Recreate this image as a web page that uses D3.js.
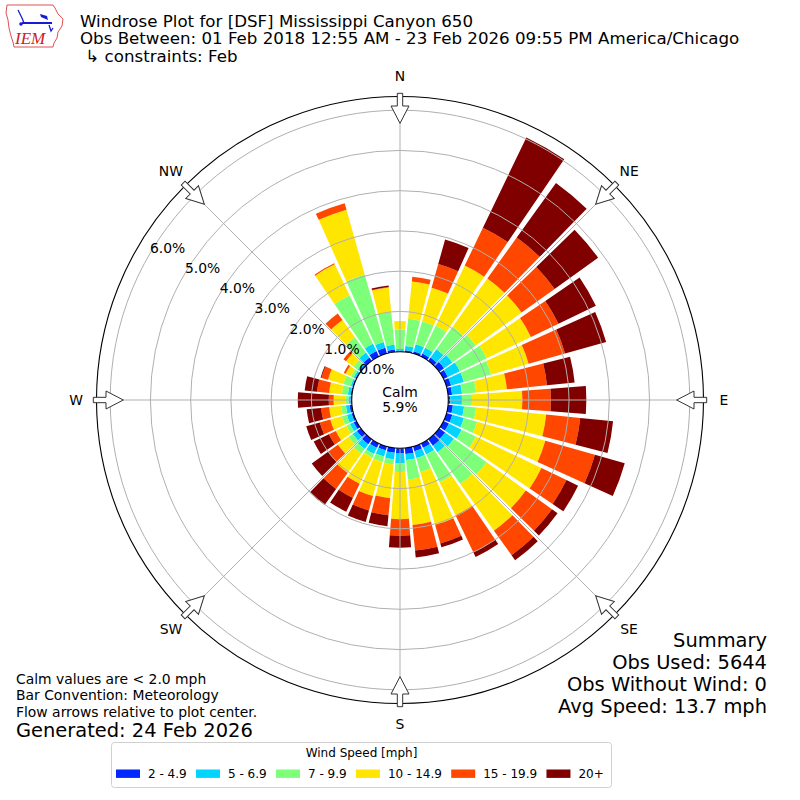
<!DOCTYPE html>
<html>
<head>
<meta charset="utf-8">
<script src="https://cdn.jsdelivr.net/npm/d3@7"></script>
<style>
  body { margin: 0; background: #fff; }
  text { font-family: "DejaVu Sans", sans-serif; fill: #000; }
</style>
</head>
<body>
<div id="chart"></div>
<script>
var svgWidth = 800;
var svgHeight = 800;
var cx = 400, cy = 400;

// wind directions (bar centres, degrees from north)
var directions = [0, 10, 20, 30, 40, 50, 60, 70, 80, 90, 100, 110, 120, 130, 140, 150, 160, 170,
    180, 190, 200, 210, 220, 230, 240, 250, 260, 270, 280, 290, 300, 310, 320, 330, 340, 350];

var speedBins = ["2 - 4.9", "5 - 6.9", "7 - 9.9", "10 - 14.9", "15 - 19.9", "20+"];
var binColors = ["#0028ff", "#00d4ff", "#7dff7a", "#ffe600", "#ff4700", "#800000"];

// percent of observations per direction, one list per speed bin
var speed2to5 = [0.02, 0.04, 0.06, 0.08, 0.10, 0.15, 0.12, 0.12, 0.10, 0.05, 0.12, 0.15,
    0.15, 0.18, 0.20, 0.12, 0.12, 0.15, 0.13, 0.12, 0.10, 0.12, 0.15, 0.12,
    0.08, 0.05, 0.06, 0.03, 0.03, 0.03, 0.03, 0.04, 0.10, 0.15, 0.15, 0.06];
var speed5to7 = [0.05, 0.11, 0.18, 0.16, 0.25, 0.25, 0.33, 0.33, 0.25, 0.29, 0.28, 0.30,
    0.35, 0.27, 0.20, 0.18, 0.18, 0.15, 0.25, 0.16, 0.16, 0.17, 0.15, 0.13,
    0.10, 0.12, 0.09, 0.05, 0.07, 0.04, 0.05, 0.06, 0.15, 0.20, 0.15, 0.12];
var speed7to10 = [0.48, 0.68, 0.59, 0.61, 0.69, 0.72, 0.74, 0.70, 0.35, 0.25, 0.30, 0.34,
    0.39, 1.00, 0.97, 0.77, 0.36, 0.49, 0.21, 0.13, 0.14, 0.10, 0.15, 0.13,
    0.10, 0.13, 0.12, 0.08, 0.15, 0.19, 0.07, 0.12, 0.47, 1.34, 1.74, 0.82];
var speed10to15 = [0.21, 0.93, 0.87, 1.66, 1.48, 1.40, 1.22, 0.97, 0.77, 1.25, 1.75, 1.76,
    1.81, 1.20, 1.43, 0.91, 1.36, 1.13, 1.17, 0.84, 0.88, 0.72, 0.58, 0.32,
    0.29, 0.30, 0.30, 0.29, 0.32, 0.40, 0.15, 0.23, 0.53, 0.85, 1.67, 0.61];
var speed15to20 = [0.00, 0.12, 0.61, 1.04, 1.25, 1.01, 0.76, 0.94, 1.00, 0.71, 0.85, 1.28,
    0.69, 0.80, 0.75, 1.02, 0.48, 0.64, 0.41, 0.43, 0.37, 0.39, 0.49, 0.30,
    0.19, 0.27, 0.20, 0.12, 0.30, 0.17, 0.05, 0.08, 0.20, 0.03, 0.17, 0.01];
var speed20plus = [0.00, 0.00, 0.63, 2.49, 1.67, 1.33, 1.03, 1.06, 0.69, 0.88, 0.82, 0.77,
    0.32, 0.17, 0.15, 0.13, 0.10, 0.17, 0.30, 0.27, 0.30, 0.38, 0.49, 0.50,
    0.42, 0.35, 0.36, 0.77, 0.31, 0.02, 0.00, 0.00, 0.00, 0.00, 0.00, 0.04];

var radialTicks = [0, 1, 2, 3, 4, 5, 6];
var compassLabels = ["N", "NE", "E", "SE", "S", "SW", "W", "NW"];
var calmPct = 5.9;

var titleLines = ["Windrose Plot for [DSF] Mississippi Canyon 650",
    "Obs Between: 01 Feb 2018 12:55 AM - 23 Feb 2026 09:55 PM America/Chicago",
    " \u21b3 constraints: Feb"];
var noteLines = ["Calm values are < 2.0 mph", "Bar Convention: Meteorology",
    "Flow arrows relative to plot center."];
var generatedText = "Generated: 24 Feb 2026";
var summaryLines = ["Summary", "Obs Used: 5644", "Obs Without Wind: 0", "Avg Speed: 13.7 mph"];
var legendTitle = "Wind Speed [mph]";

var svg = d3.select("#chart")
    .append("svg")
    .attr("width", svgWidth)
    .attr("height", svgHeight);

// stack the speed bins for each direction
var keys = ["b0", "b1", "b2", "b3", "b4", "b5"];
var rows = directions.map(function(d, i) {
    return {dir: d, b0: speed2to5[i], b1: speed5to7[i], b2: speed7to10[i],
        b3: speed10to15[i], b4: speed15to20[i], b5: speed20plus[i]};
});
var stacked = d3.stack().keys(keys)(rows);

var rScale = d3.scaleLinear()
    .domain([0, 6.34])
    .range([48.3, 303.5]);
var rOuter = rScale(6.34);

var toRad = function(deg) { return deg * Math.PI / 180; };
var halfWidth = 4.3;

var arc = d3.arc()
    .innerRadius(d => rScale(d[0]))
    .outerRadius(d => rScale(d[1]))
    .startAngle(d => toRad(d.data.dir - halfWidth))
    .endAngle(d => toRad(d.data.dir + halfWidth));

var plot = svg.append("g")
    .attr("transform", `translate(${cx}, ${cy})`);

// bars
plot.selectAll("g.bin")
    .data(stacked)
    .enter()
    .append("g")
    .attr("class", "bin")
    .attr("fill", (d, i) => binColors[i])
    .selectAll("path")
    .data(d => d.filter(s => s[1] - s[0] > 0))
    .enter()
    .append("path")
    .attr("d", arc);

// grid rings and spokes (drawn over the bars)
plot.selectAll("circle.ring")
    .data(radialTicks.filter(t => t > 0))
    .enter()
    .append("circle")
    .attr("class", "ring")
    .attr("r", d => rScale(d))
    .attr("fill", "none")
    .attr("stroke", "#b0b0b0")
    .attr("stroke-width", 1);

var compassAngles = compassLabels.map((l, i) => i * 45);

plot.selectAll("line.spoke")
    .data(compassAngles)
    .enter()
    .append("line")
    .attr("class", "spoke")
    .attr("x1", 0).attr("y1", 0)
    .attr("x2", d => rOuter * Math.sin(toRad(d)))
    .attr("y2", d => -rOuter * Math.cos(toRad(d)))
    .attr("stroke", "#b0b0b0")
    .attr("stroke-width", 1);

plot.append("circle")
    .attr("r", rOuter)
    .attr("fill", "none")
    .attr("stroke", "#000")
    .attr("stroke-width", 1.1);

// calm circle
plot.append("circle")
    .attr("r", rScale(0))
    .attr("fill", "#fff")
    .attr("stroke", "#000")
    .attr("stroke-width", 1.1);

plot.append("text")
    .attr("x", 0).attr("y", -3)
    .attr("text-anchor", "middle")
    .attr("font-size", 13.9)
    .text("Calm");
plot.append("text")
    .attr("x", 0).attr("y", 12)
    .attr("text-anchor", "middle")
    .attr("font-size", 13.9)
    .text(d3.format(".1f")(calmPct) + "%");

// radial labels along the 300 degree line
var labelAngle = toRad(300);
plot.selectAll("text.rlabel")
    .data(radialTicks)
    .enter()
    .append("text")
    .attr("class", "rlabel")
    .attr("x", d => rScale(d) * Math.sin(labelAngle) + 1)
    .attr("y", d => -rScale(d) * Math.cos(labelAngle) - 2)
    .attr("font-size", 13.9)
    .text(d => d3.format(".1f")(d) + "%");

// flow arrows on the outer circle
var arrowPath = "M-2.7,-306.7 L2.7,-306.7 L2.7,-294 L9,-294 L0,-276.7 L-9,-294 L-2.7,-294 Z";
plot.selectAll("path.arrow")
    .data(compassAngles)
    .enter()
    .append("path")
    .attr("class", "arrow")
    .attr("d", arrowPath)
    .attr("transform", d => `rotate(${d})`)
    .attr("fill", "#fff")
    .attr("stroke", "#333")
    .attr("stroke-width", 1);

plot.selectAll("text.compass")
    .data(compassLabels)
    .enter()
    .append("text")
    .attr("class", "compass")
    .attr("x", (d, i) => 324 * Math.sin(toRad(compassAngles[i])))
    .attr("y", (d, i) => -324 * Math.cos(toRad(compassAngles[i])))
    .attr("text-anchor", "middle")
    .attr("dy", "0.36em")
    .attr("font-size", 13.9)
    .text(d => d);

// header
svg.selectAll("text.title")
    .data(titleLines)
    .enter()
    .append("text")
    .attr("class", "title")
    .attr("x", 80)
    .attr("y", (d, i) => 26.5 + i * 17.6)
    .attr("font-size", 16.67)
    .style("white-space", "pre")
    .text(d => d);

// IEM logo
var logo = svg.append("g");
logo.append("path")
    .attr("d", "M7,5 L53,5 L55,8 L58,14 L63,19 L62,26 L58,32 L57,38 L54,43 L53,47 L14,47 L13,42 L11,36 L9,28 L8,20 L6,13 Z")
    .attr("fill", "none")
    .attr("stroke", "#e05050")
    .attr("stroke-width", 1);
logo.append("line").attr("x1", 22).attr("y1", 23).attr("x2", 52).attr("y2", 23)
    .attr("stroke", "#1a1ad0").attr("stroke-width", 2);
logo.append("path").attr("d", "M18,10 L22,18 L24,23")
    .attr("fill", "none").attr("stroke", "#1a1ad0").attr("stroke-width", 1.3);
logo.append("path").attr("d", "M40,14 L47,16 L48,20 L41,17 Z").attr("fill", "#1a1ad0");
logo.append("path").attr("d", "M49,25 L51,31 L53,28").attr("fill", "none")
    .attr("stroke", "#1a1ad0").attr("stroke-width", 1.3);
logo.append("circle").attr("cx", 21).attr("cy", 24).attr("r", 1.8).attr("fill", "#1a1ad0");
logo.append("text")
    .attr("x", 15).attr("y", 44)
    .style("font-family", "'Liberation Serif', serif")
    .style("font-style", "italic")
    .style("fill", "#d02020")
    .attr("font-size", 17)
    .text("IEM");

// notes bottom left
svg.selectAll("text.note")
    .data(noteLines)
    .enter()
    .append("text")
    .attr("class", "note")
    .attr("x", 16)
    .attr("y", (d, i) => 683.5 + i * 16.5)
    .attr("font-size", 13.9)
    .text(d => d);

svg.append("text")
    .attr("x", 16)
    .attr("y", 737)
    .attr("font-size", 19.44)
    .text(generatedText);

// summary bottom right
svg.selectAll("text.summary")
    .data(summaryLines)
    .enter()
    .append("text")
    .attr("class", "summary")
    .attr("x", 767)
    .attr("y", (d, i) => 646.5 + i * 22.3)
    .attr("text-anchor", "end")
    .attr("font-size", 19.44)
    .text(d => d);

// legend
var legend = svg.append("g");
legend.append("rect")
    .attr("x", 111.5).attr("y", 742.5)
    .attr("width", 500).attr("height", 45)
    .attr("rx", 3)
    .attr("fill", "#fff")
    .attr("stroke", "#d0d0d0");
legend.append("text")
    .attr("x", 361.5).attr("y", 757)
    .attr("text-anchor", "middle")
    .attr("font-size", 12)
    .text(legendTitle);

var xPos = 116;
speedBins.forEach(function(label, i) {
    legend.append("rect")
        .attr("x", xPos).attr("y", 769.5)
        .attr("width", 24).attr("height", 8.4)
        .attr("fill", binColors[i]);
    var t = legend.append("text")
        .attr("x", xPos + 32).attr("y", 778)
        .attr("font-size", 12)
        .text(label);
    xPos = xPos + 32 + t.node().getComputedTextLength() + 9.3;
});
</script>
</body>
</html>
